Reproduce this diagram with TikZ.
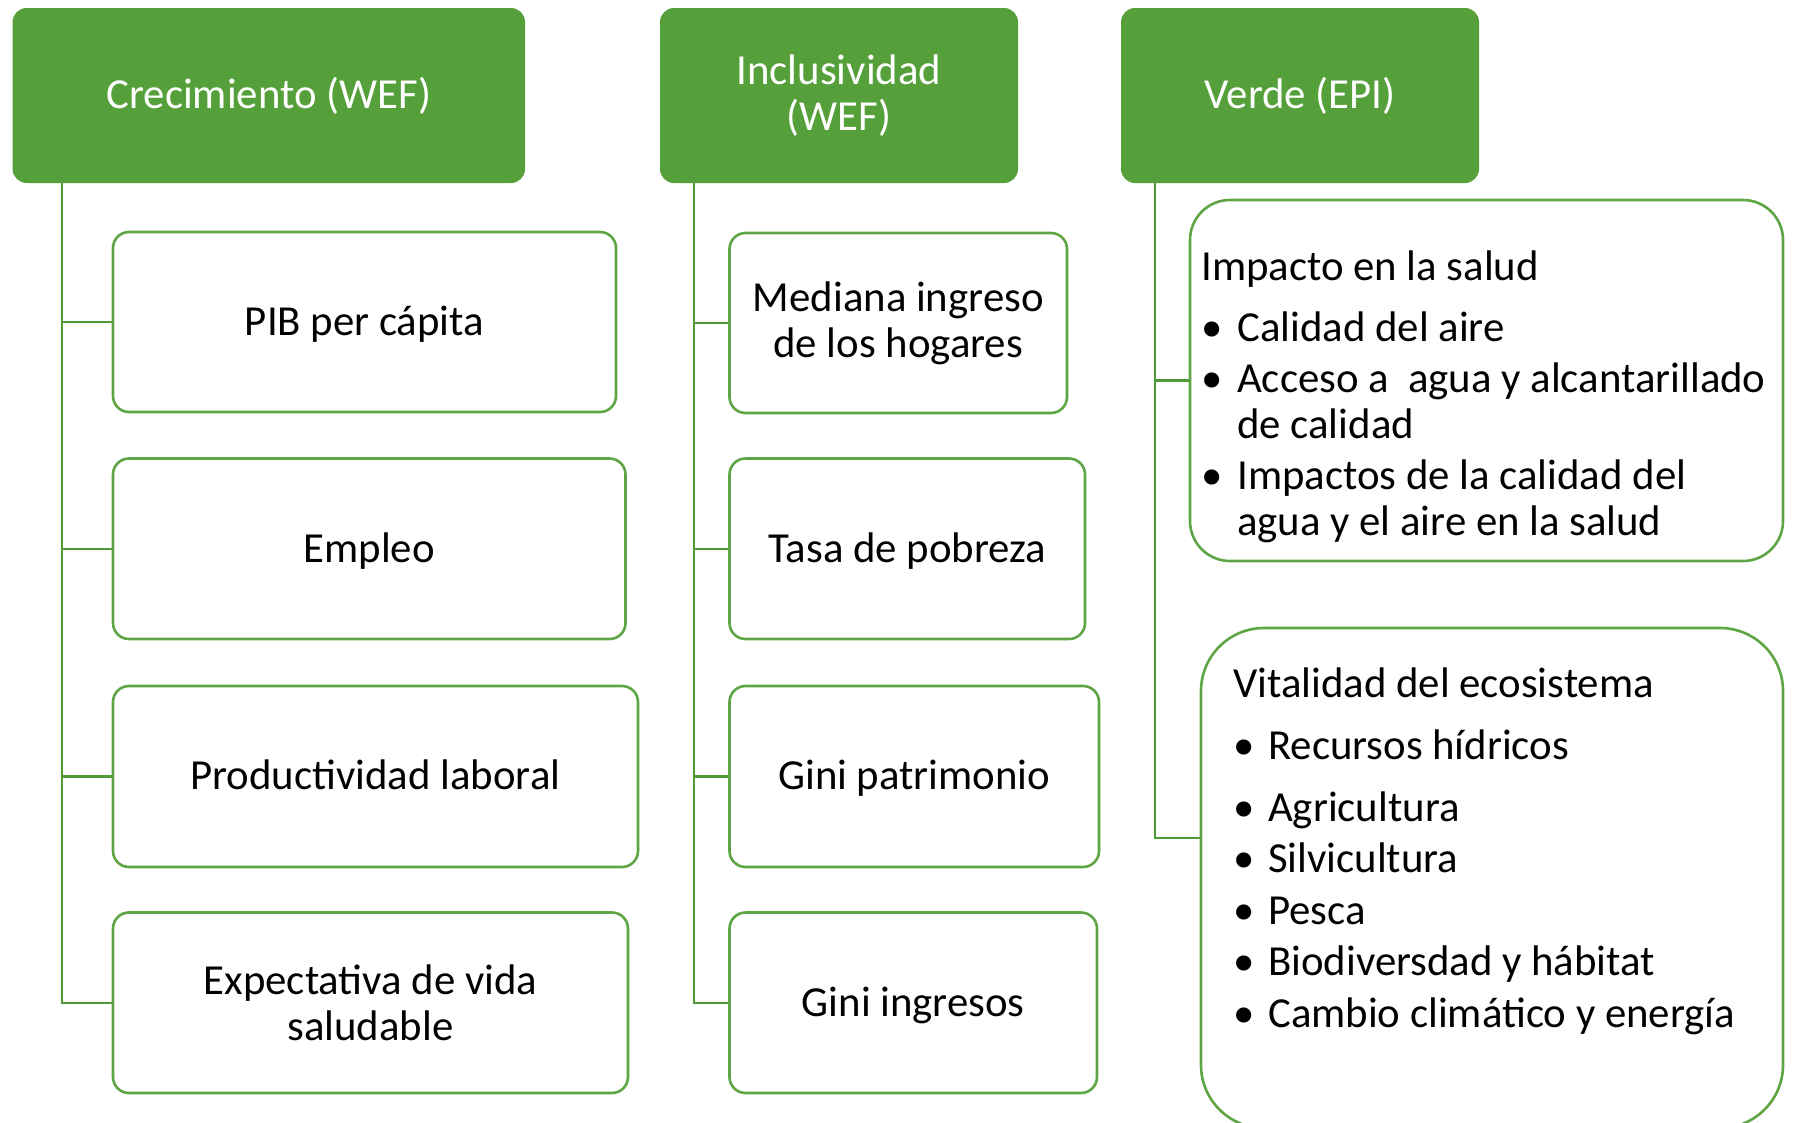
\documentclass[tikz,border=0pt]{standalone}
\usepackage{fontspec}
\setmainfont{Carlito}
\definecolor{hdr}{HTML}{55A03A}
\definecolor{brd}{HTML}{5EA545}
\definecolor{lnk}{HTML}{4E9A34}
\begin{document}
\begin{tikzpicture}[x=1pt,y=-1pt,
  fnt/.style={font=\fontsize{42.8}{45.7}\selectfont},
  hdrbox/.style={fnt, fill=hdr, draw=none, rounded corners=14pt, text=white, align=center, inner sep=0pt},
  itembox/.style={fnt, draw=brd, line width=2.6pt, fill=white, rounded corners=16pt, align=center, inner sep=0pt, text=black},
  oneline/.style={text height=35pt, text depth=8.5pt},
  listbox/.style={draw=brd, line width=2.6pt, fill=white, inner sep=0pt},
  link/.style={draw=lnk, line width=2.4pt},
  txt/.style={fnt, anchor=base west, inner sep=0pt},
  bul/.style={fnt, anchor=base, inner sep=0pt}]
\useasboundingbox (0,0) rectangle (1793,1122);
\fill[white] (0,0) rectangle (1793,1122);

% headers
\node[hdrbox, minimum width=512.4pt, minimum height=175pt] (h1) at (268.8,95.5) {Crecimiento (WEF)};
\node[hdrbox, minimum width=358pt, minimum height=175pt] (h2) at (839,95.5) {Inclusividad\\(WEF)};
\node[hdrbox, minimum width=358pt, minimum height=175pt] (h3) at (1300,95.5) {Verde (EPI)};

% column 1
\node[itembox, oneline, minimum width=503pt, minimum height=180pt] (a1) at (364.5,322) {PIB per cápita};
\node[itembox, oneline, minimum width=512.5pt, minimum height=180.5pt] (a2) at (369.25,548.75) {Empleo};
\node[itembox, oneline, minimum width=525pt, minimum height=181pt] (a3) at (375.5,776.5) {Productividad laboral};
\node[itembox, minimum width=515pt, minimum height=180.5pt] (a4) at (370.5,1002.75) {Expectativa de vida\\saludable};

% column 2
\node[itembox, minimum width=337.5pt, minimum height=180pt] (b1) at (898.25,323) {Mediana ingreso\\de los hogares};
\node[itembox, oneline, minimum width=355.5pt, minimum height=180.5pt] (b2) at (907.25,548.75) {Tasa de pobreza};
\node[itembox, oneline, minimum width=369.5pt, minimum height=181pt] (b3) at (914.25,776.5) {Gini patrimonio};
\node[itembox, oneline, minimum width=367.5pt, minimum height=180.5pt] (b4) at (913.25,1002.75) {Gini ingresos};

% column 3 boxes
\node[listbox, rounded corners=40pt, minimum width=593pt, minimum height=361pt] (c1) at (1486.5,380.5) {};
\node[listbox, rounded corners=63pt, minimum width=582pt, minimum height=500pt] (c2) at (1492,878) {};

% connectors
\coordinate (v1) at (62,183);
\coordinate (v2) at (694,183);
\coordinate (v3) at (1155,183);
\draw[link] (v1) |- (a4.west);
\foreach \n in {a1,a2,a3} \draw[link] (v1 |- \n.west) -- (\n.west);
\draw[link] (v2) |- (b4.west);
\foreach \n in {b1,b2,b3} \draw[link] (v2 |- \n.west) -- (\n.west);
\draw[link] (v3) |- ([yshift=40pt]c2.west);
\draw[link] (v3 |- c1.west) -- (c1.west);

% list texts: Impacto
\node[txt] (t1) at (1201,280) {Impacto en la salud};
\node[bul] (p1) at (1212,341) {•};
\node[txt] (i1) at (1237,341) {Calidad del aire};
\node[bul] (p2) at (1212,392) {•};
\node[txt] (i2) at (1237,392) {Acceso a~ agua y alcantarillado};
\node[txt] (i2b) at (1237,438) {de calidad};
\node[bul] (p3) at (1212,489.5) {•};
\node[txt] (i3) at (1237,489.5) {Impactos de la calidad del};
\node[txt] (i3b) at (1237,535) {agua y el aire en la salud};

% list texts: Vitalidad
\node[txt] (t2) at (1233,697.5) {Vitalidad del ecosistema};
\node[bul] (q1) at (1244,759) {•};
\node[txt] (j1) at (1268,759) {Recursos hídricos};
\node[bul] (q2) at (1244,821) {•};
\node[txt] (j2) at (1268,821) {Agricultura};
\node[bul] (q3) at (1244,872.5) {•};
\node[txt] (j3) at (1268,872.5) {Silvicultura};
\node[bul] (q4) at (1244,924) {•};
\node[txt] (j4) at (1268,924) {Pesca};
\node[bul] (q5) at (1244,975.5) {•};
\node[txt] (j5) at (1268,975.5) {Biodiversdad y hábitat};
\node[bul] (q6) at (1244,1027) {•};
\node[txt] (j6) at (1268,1027) {Cambio climático y energía};
\end{tikzpicture}
\end{document}
